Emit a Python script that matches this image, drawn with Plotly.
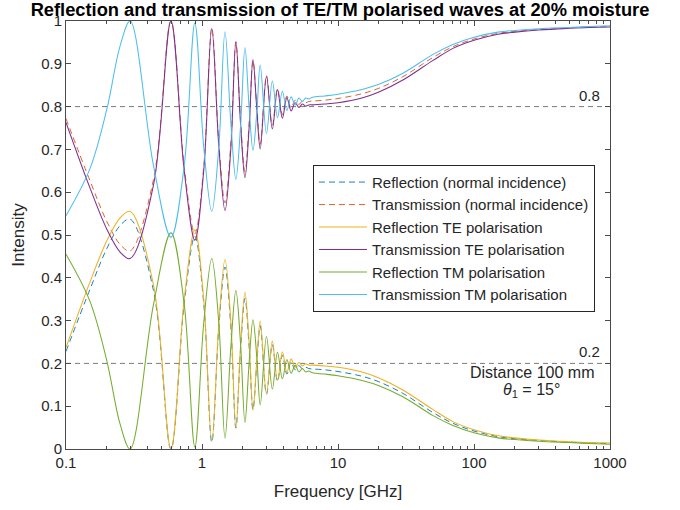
import plotly.graph_objects as go

# Frequency grid in GHz (interference extrema, the half-way points between the
# first few of them, and the smooth high-frequency tail)
freq_ghz = [0.1, 0.15, 0.2, 0.25, 0.296, 0.44, 0.591, 0.74, 0.886, 1.03, 1.18, 1.33,
            1.476, 1.63, 1.775, 1.92, 2.07, 2.22, 2.37, 2.53, 2.68, 2.98, 3.29, 3.59,
            3.90, 4.21, 4.52, 4.84, 5.16, 5.47, 5.79, 6.10, 6.5, 8, 10, 15, 20, 30,
            50, 70, 100, 150, 200, 300, 500, 700, 1000]

refl_normal = [0.228, 0.373, 0.469, 0.522, 0.537, 0.37, 0.0, 0.34, 0.497, 0.34, 0.016, 0.285,
               0.425, 0.285, 0.049, 0.232, 0.352, 0.24, 0.092, 0.20, 0.288, 0.128, 0.244, 0.158,
               0.219, 0.175, 0.203, 0.185, 0.195, 0.187, 0.191, 0.188, 0.187, 0.185, 0.181, 0.17,
               0.157, 0.13, 0.085, 0.06, 0.042, 0.029, 0.024, 0.02, 0.016, 0.014, 0.013]

trans_normal = [0.772, 0.627, 0.531, 0.478, 0.463, 0.63, 1.0, 0.66, 0.503, 0.66, 0.984, 0.715,
                0.575, 0.715, 0.951, 0.768, 0.648, 0.76, 0.908, 0.80, 0.712, 0.872, 0.756, 0.842,
                0.781, 0.825, 0.797, 0.815, 0.805, 0.813, 0.809, 0.812, 0.813, 0.815, 0.819, 0.83,
                0.843, 0.87, 0.915, 0.94, 0.958, 0.971, 0.976, 0.98, 0.984, 0.986, 0.987]

refl_te = [0.237, 0.39, 0.487, 0.54, 0.555, 0.383, 0.0, 0.35, 0.512, 0.349, 0.017, 0.294,
           0.443, 0.297, 0.048, 0.239, 0.366, 0.25, 0.09, 0.207, 0.299, 0.129, 0.252, 0.16,
           0.227, 0.179, 0.21, 0.191, 0.202, 0.194, 0.199, 0.196, 0.196, 0.194, 0.191, 0.18,
           0.166, 0.138, 0.092, 0.064, 0.045, 0.031, 0.026, 0.021, 0.017, 0.015, 0.014]

trans_te = [0.763, 0.61, 0.513, 0.46, 0.445, 0.617, 1.0, 0.65, 0.488, 0.651, 0.983, 0.706,
            0.557, 0.703, 0.952, 0.761, 0.634, 0.75, 0.91, 0.793, 0.701, 0.871, 0.748, 0.84,
            0.773, 0.821, 0.79, 0.809, 0.798, 0.806, 0.801, 0.804, 0.804, 0.806, 0.809, 0.82,
            0.834, 0.862, 0.908, 0.936, 0.955, 0.969, 0.974, 0.979, 0.983, 0.985, 0.986]

refl_tm = [0.455, 0.345, 0.205, 0.058, 0.0, 0.338, 0.505, 0.338, 0.005, 0.295, 0.445, 0.294,
           0.025, 0.239, 0.37, 0.247, 0.062, 0.201, 0.302, 0.214, 0.103, 0.263, 0.14, 0.226,
           0.164, 0.209, 0.177, 0.196, 0.18, 0.188, 0.18, 0.182, 0.178, 0.175, 0.171, 0.16,
           0.148, 0.122, 0.078, 0.055, 0.038, 0.026, 0.022, 0.018, 0.015, 0.013, 0.011]

trans_tm = [0.545, 0.655, 0.795, 0.942, 1.0, 0.662, 0.495, 0.662, 0.995, 0.705, 0.555, 0.706,
            0.975, 0.761, 0.63, 0.753, 0.938, 0.799, 0.698, 0.786, 0.897, 0.737, 0.86, 0.774,
            0.836, 0.791, 0.823, 0.804, 0.82, 0.812, 0.82, 0.818, 0.822, 0.825, 0.829, 0.84,
            0.852, 0.878, 0.922, 0.945, 0.962, 0.974, 0.978, 0.982, 0.985, 0.987, 0.989]

series_names = ["Reflection (normal incidence)", "Transmission (normal incidence)",
                "Reflection TE polarisation", "Transmission TE polarisation",
                "Reflection TM polarisation", "Transmission TM polarisation"]
series_values = [refl_normal, trans_normal, refl_te, trans_te, refl_tm, trans_tm]

reference_levels = [0.8, 0.2]
x_tick_values = [0.1, 1, 10, 100, 1000]
x_tick_labels = ["0.1", "1", "10", "100", "1000"]

colors = ["#0072BD", "#D95319", "#EDB120", "#7E2F8E", "#77AC30", "#4DBEEE"]
dashes = ["6px,4px", "6px,4px", "solid", "solid", "solid", "solid"]
widths = [0.9, 0.9, 1.05, 1.05, 1.05, 1.05]

FONT = "Liberation Sans, Arial, Helvetica, sans-serif"
AXIS_COLOR = "#4a4a4a"
TEXT_COLOR = "#262626"

fig = go.Figure()

for name, vals, col, dsh, wd in zip(series_names, series_values, colors, dashes, widths):
    fig.add_trace(go.Scatter(
        x=freq_ghz, y=vals, name=name, mode="lines",
        line=dict(color=col, width=wd, dash=dsh, shape="spline", smoothing=1.0),
    ))

for lvl in reference_levels:
    fig.add_hline(y=lvl, line=dict(color="#7a7a7a", width=1, dash="5px,4px"), layer="below")
    fig.add_annotation(x=0.985, xref="paper", y=lvl, yref="y", text=f"{lvl:g}",
                       showarrow=False, xanchor="right", yanchor="bottom", yshift=1,
                       font=dict(family=FONT, size=15, color=TEXT_COLOR))

fig.add_annotation(x=0.858, xref="paper", y=0.178, yref="y", text="Distance 100 mm",
                   showarrow=False, xanchor="center", yanchor="middle",
                   font=dict(family=FONT, size=16, color=TEXT_COLOR))
fig.add_annotation(x=0.855, xref="paper", y=0.137, yref="y",
                   text="<i>θ</i><sub>1</sub> = 15°",
                   showarrow=False, xanchor="center", yanchor="middle",
                   font=dict(family=FONT, size=16, color=TEXT_COLOR))

minor_x = [m * 10 ** e for e in range(-1, 3) for m in range(2, 10)]

fig.update_layout(
    width=680, height=510,
    margin=dict(l=66, r=70, t=20, b=60),
    paper_bgcolor="white", plot_bgcolor="white",
    font=dict(family=FONT, size=15, color=TEXT_COLOR),
    title=dict(text="<b>Reflection and transmission of TE/TM polarised waves at 20% moisture</b>",
               x=0.5, xanchor="center", y=0.981, yanchor="middle",
               font=dict(family=FONT, size=18.3, color="#000000")),
    legend=dict(x=0.454, y=0.664, xanchor="left", yanchor="top",
                bgcolor="white", bordercolor="#262626", borderwidth=1,
                font=dict(family=FONT, size=15, color=TEXT_COLOR),
                itemwidth=48, tracegroupgap=0),
    showlegend=True,
)

fig.update_xaxes(
    type="log", range=[-1, 3],
    tickvals=x_tick_values, ticktext=x_tick_labels,
    ticks="inside", ticklen=5, tickcolor=AXIS_COLOR,
    minor=dict(tickvals=minor_x, ticks="inside", ticklen=3, tickcolor=AXIS_COLOR, showgrid=False),
    showline=True, linecolor=AXIS_COLOR, linewidth=1, mirror="ticks",
    showgrid=False, zeroline=False,
    title=dict(text="Frequency [GHz]", font=dict(family=FONT, size=17, color=TEXT_COLOR), standoff=15),
    tickfont=dict(family=FONT, size=15, color=TEXT_COLOR),
)
fig.update_yaxes(
    range=[0, 1], tick0=0, dtick=0.1,
    ticks="inside", ticklen=5, tickcolor=AXIS_COLOR,
    showline=True, linecolor=AXIS_COLOR, linewidth=1, mirror="ticks",
    showgrid=False, zeroline=False,
    title=dict(text="Intensity", font=dict(family=FONT, size=17, color=TEXT_COLOR), standoff=12),
    tickfont=dict(family=FONT, size=15, color=TEXT_COLOR),
)

fig.write_html("out.html")
